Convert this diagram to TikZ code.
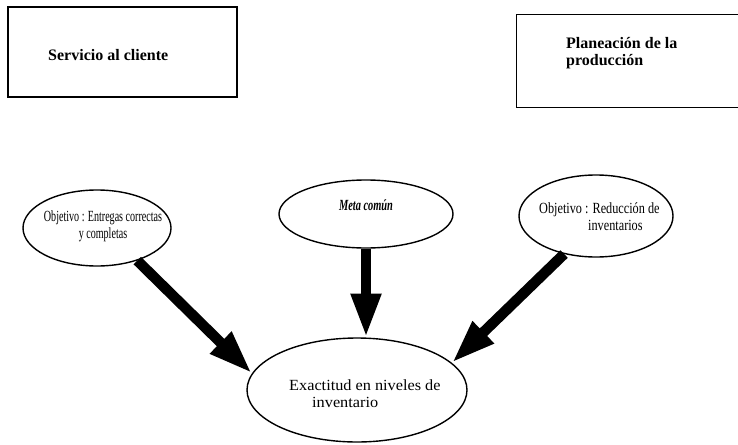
\documentclass[tikz,border=0pt]{standalone}
\usepackage{fontspec}
\setmainfont{Liberation Serif}
\newfontfamily\fontA[FakeStretch=0.65]{Liberation Serif}
\newfontfamily\fontM[FakeStretch=0.67]{Liberation Serif}
\newfontfamily\fontB[FakeStretch=0.79]{Liberation Serif}
\newfontfamily\fontC[FakeStretch=1.05]{Liberation Serif}
\usetikzlibrary{shapes.geometric,arrows.meta}
\tikzset{
  box/.style={line width=1.1pt, rectangle, inner sep=0pt},
  oval/.style={draw, line width=1.4pt, ellipse, inner sep=0pt},
  boldtxt/.style={font=\fontsize{16}{17}\selectfont\bfseries, align=left, inner sep=0pt},
  txtA/.style={font=\fontA\fontsize{15.5}{17}\selectfont, inner sep=0pt},
  txtM/.style={font=\fontM\fontsize{15.5}{17}\selectfont\bfseries\itshape, inner sep=0pt},
  txtB/.style={font=\fontB\fontsize{15.5}{17}\selectfont, inner sep=0pt},
  txtC/.style={font=\fontC\fontsize{15.5}{17}\selectfont, inner sep=0pt},
  bigarrow/.style={line width=10.5pt, -{Triangle[width=28pt,length=44pt]}}
}
\begin{document}
\begin{tikzpicture}[x=1pt,y=-1pt]
\useasboundingbox (0,0) rectangle (738,444);
% boxes
\node[box, draw, minimum width=229pt, minimum height=90pt] (b1) at (122.5,52) {};
\node[boldtxt, anchor=west] (bt1) at (48,55) {Servicio al cliente};
\node[box, minimum width=230pt, minimum height=92pt] (b2) at (632,61) {};
\draw[line width=1.1pt] (b2.north east) -- (b2.north west) -- (b2.south west) -- (b2.south east);
\node[boldtxt, anchor=west] (bt2) at (566,53) {Planeación de la\\producción};
% ellipses
\node[oval, minimum width=148pt, minimum height=76pt] (e1) at (97,228) {};
\node[txtA, align=center] (t1) at (103,226) {Objetivo : Entregas correctas\\y completas};
\node[oval, minimum width=174pt, minimum height=68pt] (e2) at (366,214) {};
\node[txtM] (t2) at (366,205) {Meta común};
\node[oval, minimum width=154pt, minimum height=82pt] (e3) at (596,216) {};
\node[txtB, align=left, anchor=west] (t3) at (539,217) {Objetivo : Reducción de\\\hspace{49pt}inventarios};
\node[oval, minimum width=220pt, minimum height=104pt] (e4) at (357,390) {};
\node[txtC, align=left, anchor=west] (t4) at (289,394) {Exactitud en niveles de\\\hspace{23pt}inventario};
% arrows
\draw[bigarrow] (e1.-39) -- (e4.171);
\draw[bigarrow] (e2.south) -- (e2.south |- e4.78);
\draw[bigarrow] (e3.-130) -- (e4.16);
\end{tikzpicture}
\end{document}
